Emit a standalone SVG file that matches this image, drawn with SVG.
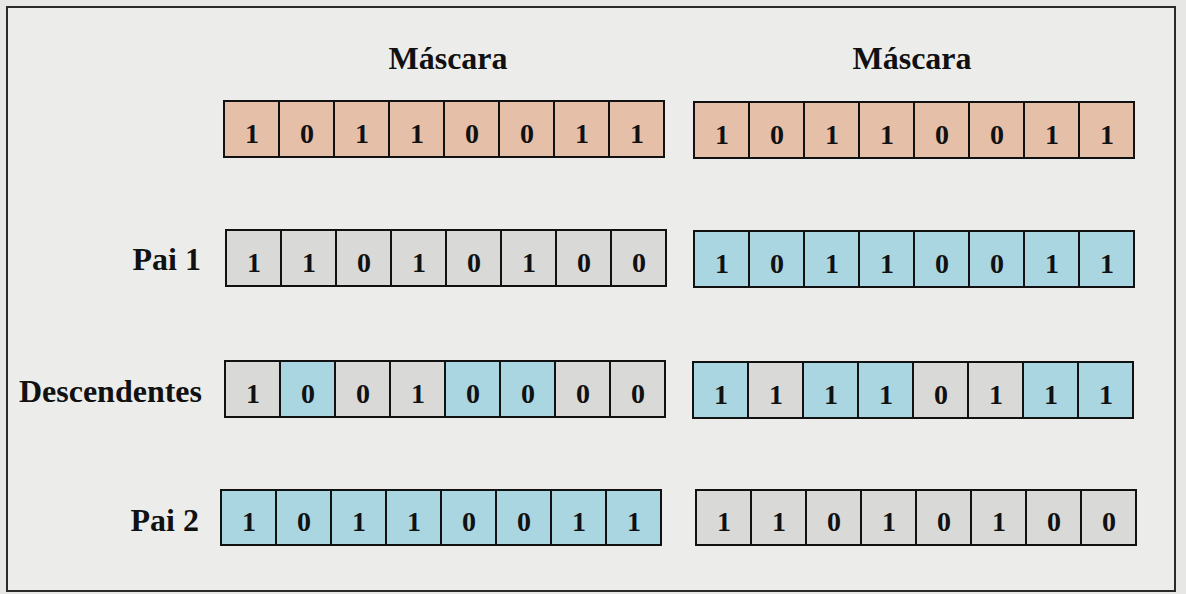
<svg xmlns="http://www.w3.org/2000/svg" width="1186" height="594" viewBox="0 0 1186 594">
  <style>
    .frame { fill: #ECEDEB; stroke: #2a2a2a; stroke-width: 2; }
    .cell { stroke: #111; stroke-width: 2; }
    .m { fill: #E6BFA9; }
    .g { fill: #D9D9D7; }
    .b { fill: #AAD6E2; }
    .d { font-family: "Liberation Serif", "Times New Roman", serif; font-weight: bold; font-size: 28px; fill: #111; text-anchor: middle; }
    .lbl { font-family: "Liberation Serif", "Times New Roman", serif; font-weight: bold; font-size: 32px; fill: #111; }
  </style>
  <rect x="0" y="0" width="1186" height="594" fill="#E7E8E6"/>
  <rect class="frame" x="7" y="7" width="1168" height="584"/>

  <g id="labels">
    <text class="lbl" x="448" y="69" text-anchor="middle" font-size="31">Máscara</text>
    <text class="lbl" x="912" y="69" text-anchor="middle" font-size="31">Máscara</text>
    <text class="lbl" x="201" y="270" text-anchor="end">Pai 1</text>
    <text class="lbl" x="202" y="402" text-anchor="end">Descendentes</text>
    <text class="lbl" x="199" y="531" text-anchor="end">Pai 2</text>
  </g>

  <g id="mask-left" transform="translate(224,101)">
    <rect class="cell m" x="0" y="0" width="55" height="56"/><rect class="cell m" x="55" y="0" width="55" height="56"/><rect class="cell m" x="110" y="0" width="55" height="56"/><rect class="cell m" x="165" y="0" width="55" height="56"/><rect class="cell m" x="220" y="0" width="55" height="56"/><rect class="cell m" x="275" y="0" width="55" height="56"/><rect class="cell m" x="330" y="0" width="55" height="56"/><rect class="cell m" x="385" y="0" width="55" height="56"/>
    <text class="d" x="28" y="42">1</text><text class="d" x="83" y="42">0</text><text class="d" x="138" y="42">1</text><text class="d" x="193" y="42">1</text><text class="d" x="248" y="42">0</text><text class="d" x="303" y="42">0</text><text class="d" x="358" y="42">1</text><text class="d" x="413" y="42">1</text>
  </g>
  <g id="mask-right" transform="translate(694,102)">
    <rect class="cell m" x="0" y="0" width="55" height="56"/><rect class="cell m" x="55" y="0" width="55" height="56"/><rect class="cell m" x="110" y="0" width="55" height="56"/><rect class="cell m" x="165" y="0" width="55" height="56"/><rect class="cell m" x="220" y="0" width="55" height="56"/><rect class="cell m" x="275" y="0" width="55" height="56"/><rect class="cell m" x="330" y="0" width="55" height="56"/><rect class="cell m" x="385" y="0" width="55" height="56"/>
    <text class="d" x="28" y="42">1</text><text class="d" x="83" y="42">0</text><text class="d" x="138" y="42">1</text><text class="d" x="193" y="42">1</text><text class="d" x="248" y="42">0</text><text class="d" x="303" y="42">0</text><text class="d" x="358" y="42">1</text><text class="d" x="413" y="42">1</text>
  </g>

  <g id="pai1-left" transform="translate(226,230)">
    <rect class="cell g" x="0" y="0" width="55" height="56"/><rect class="cell g" x="55" y="0" width="55" height="56"/><rect class="cell g" x="110" y="0" width="55" height="56"/><rect class="cell g" x="165" y="0" width="55" height="56"/><rect class="cell g" x="220" y="0" width="55" height="56"/><rect class="cell g" x="275" y="0" width="55" height="56"/><rect class="cell g" x="330" y="0" width="55" height="56"/><rect class="cell g" x="385" y="0" width="55" height="56"/>
    <text class="d" x="28" y="42">1</text><text class="d" x="83" y="42">1</text><text class="d" x="138" y="42">0</text><text class="d" x="193" y="42">1</text><text class="d" x="248" y="42">0</text><text class="d" x="303" y="42">1</text><text class="d" x="358" y="42">0</text><text class="d" x="413" y="42">0</text>
  </g>
  <g id="pai1-right" transform="translate(694,231)">
    <rect class="cell b" x="0" y="0" width="55" height="56"/><rect class="cell b" x="55" y="0" width="55" height="56"/><rect class="cell b" x="110" y="0" width="55" height="56"/><rect class="cell b" x="165" y="0" width="55" height="56"/><rect class="cell b" x="220" y="0" width="55" height="56"/><rect class="cell b" x="275" y="0" width="55" height="56"/><rect class="cell b" x="330" y="0" width="55" height="56"/><rect class="cell b" x="385" y="0" width="55" height="56"/>
    <text class="d" x="28" y="42">1</text><text class="d" x="83" y="42">0</text><text class="d" x="138" y="42">1</text><text class="d" x="193" y="42">1</text><text class="d" x="248" y="42">0</text><text class="d" x="303" y="42">0</text><text class="d" x="358" y="42">1</text><text class="d" x="413" y="42">1</text>
  </g>

  <g id="desc-left" transform="translate(225,361)">
    <rect class="cell g" x="0" y="0" width="55" height="56"/><rect class="cell b" x="55" y="0" width="55" height="56"/><rect class="cell g" x="110" y="0" width="55" height="56"/><rect class="cell g" x="165" y="0" width="55" height="56"/><rect class="cell b" x="220" y="0" width="55" height="56"/><rect class="cell b" x="275" y="0" width="55" height="56"/><rect class="cell g" x="330" y="0" width="55" height="56"/><rect class="cell g" x="385" y="0" width="55" height="56"/>
    <text class="d" x="28" y="42">1</text><text class="d" x="83" y="42">0</text><text class="d" x="138" y="42">0</text><text class="d" x="193" y="42">1</text><text class="d" x="248" y="42">0</text><text class="d" x="303" y="42">0</text><text class="d" x="358" y="42">0</text><text class="d" x="413" y="42">0</text>
  </g>
  <g id="desc-right" transform="translate(693,362)">
    <rect class="cell b" x="0" y="0" width="55" height="56"/><rect class="cell g" x="55" y="0" width="55" height="56"/><rect class="cell b" x="110" y="0" width="55" height="56"/><rect class="cell b" x="165" y="0" width="55" height="56"/><rect class="cell g" x="220" y="0" width="55" height="56"/><rect class="cell g" x="275" y="0" width="55" height="56"/><rect class="cell b" x="330" y="0" width="55" height="56"/><rect class="cell b" x="385" y="0" width="55" height="56"/>
    <text class="d" x="28" y="42">1</text><text class="d" x="83" y="42">1</text><text class="d" x="138" y="42">1</text><text class="d" x="193" y="42">1</text><text class="d" x="248" y="42">0</text><text class="d" x="303" y="42">1</text><text class="d" x="358" y="42">1</text><text class="d" x="413" y="42">1</text>
  </g>

  <g id="pai2-left" transform="translate(221,490)">
    <rect class="cell b" x="0" y="0" width="55" height="55"/><rect class="cell b" x="55" y="0" width="55" height="55"/><rect class="cell b" x="110" y="0" width="55" height="55"/><rect class="cell b" x="165" y="0" width="55" height="55"/><rect class="cell b" x="220" y="0" width="55" height="55"/><rect class="cell b" x="275" y="0" width="55" height="55"/><rect class="cell b" x="330" y="0" width="55" height="55"/><rect class="cell b" x="385" y="0" width="55" height="55"/>
    <text class="d" x="28" y="41">1</text><text class="d" x="83" y="41">0</text><text class="d" x="138" y="41">1</text><text class="d" x="193" y="41">1</text><text class="d" x="248" y="41">0</text><text class="d" x="303" y="41">0</text><text class="d" x="358" y="41">1</text><text class="d" x="413" y="41">1</text>
  </g>
  <g id="pai2-right" transform="translate(696,490)">
    <rect class="cell g" x="0" y="0" width="55" height="55"/><rect class="cell g" x="55" y="0" width="55" height="55"/><rect class="cell g" x="110" y="0" width="55" height="55"/><rect class="cell g" x="165" y="0" width="55" height="55"/><rect class="cell g" x="220" y="0" width="55" height="55"/><rect class="cell g" x="275" y="0" width="55" height="55"/><rect class="cell g" x="330" y="0" width="55" height="55"/><rect class="cell g" x="385" y="0" width="55" height="55"/>
    <text class="d" x="28" y="41">1</text><text class="d" x="83" y="41">1</text><text class="d" x="138" y="41">0</text><text class="d" x="193" y="41">1</text><text class="d" x="248" y="41">0</text><text class="d" x="303" y="41">1</text><text class="d" x="358" y="41">0</text><text class="d" x="413" y="41">0</text>
  </g>

  <g id="connectors"></g>
</svg>
